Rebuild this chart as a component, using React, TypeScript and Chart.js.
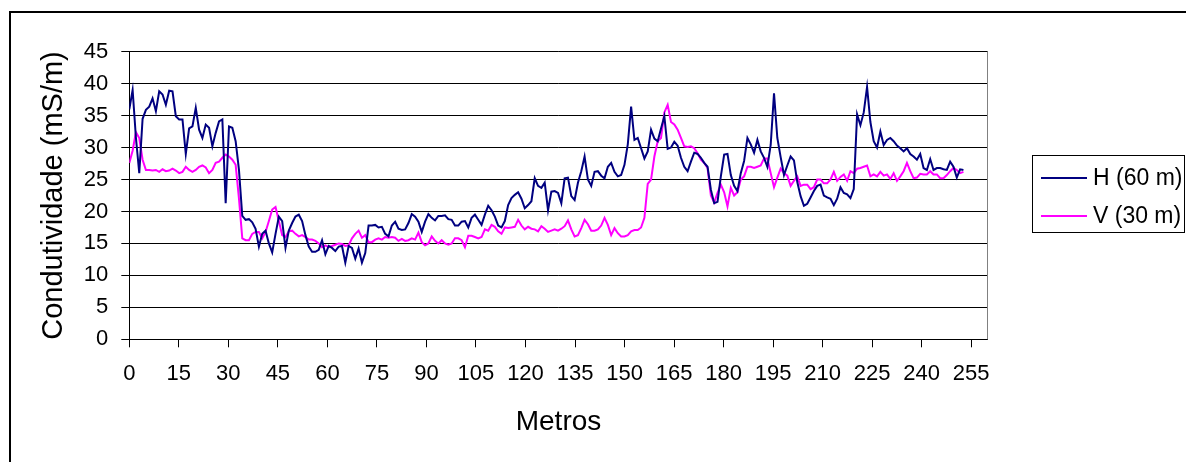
import React, { useEffect, useRef } from "react";
import { Chart, registerables } from "chart.js";

Chart.register(...registerables);

// Sample index along the profile (one reading per metre)
const H_60: number[] = [
  36.0, 39.0, 31.5, 26.0, 34.5, 35.9, 36.4, 37.7, 35.7, 38.8,
  38.3, 36.7, 38.9, 38.8, 34.9, 34.4, 34.4, 29.0, 33.0, 33.3,
  36.2, 32.8, 31.5, 33.6, 33.1, 30.2, 32.3, 34.1, 34.4, 21.3,
  33.3, 33.1, 31.0, 26.5, 19.3, 18.7, 18.8, 18.3, 17.3, 14.5,
  16.5, 17.0, 15.0, 13.6, 16.5, 19.2, 18.5, 14.3, 17.0, 18.2,
  19.2, 19.5, 18.5, 16.3, 14.5, 13.7, 13.7, 14.0, 15.5, 13.3,
  14.6, 14.3, 13.8, 14.5, 14.6, 12.0, 14.6, 14.3, 12.6, 14.2,
  12.0, 13.5, 17.8, 17.8, 17.9, 17.5, 17.6, 16.5, 16.1, 17.8,
  18.4, 17.3, 17.1, 17.2, 18.2, 19.6, 19.2, 18.4, 16.8, 18.4,
  19.6, 19.0, 18.6, 19.3, 19.3, 19.4, 18.8, 18.7, 17.8, 17.8,
  18.4, 18.5, 17.5, 19.0, 19.5, 18.7, 17.9, 19.5, 20.9, 20.2,
  19.2, 17.8, 17.5, 18.5, 21.0, 22.1, 22.6, 23.0, 22.0, 20.5,
  21.0, 21.6, 25.2, 24.0, 23.7, 24.5, 20.2, 23.1, 23.2, 22.9,
  21.3, 25.2, 25.3, 22.4, 21.8, 24.5, 26.3, 28.6, 25.0, 24.0,
  26.2, 26.3, 25.6, 25.2, 27.0, 27.6, 26.2, 25.5, 25.7, 27.3,
  30.5, 36.4, 31.2, 31.5, 29.9, 28.3, 29.4, 32.8, 31.4, 31.0,
  33.0, 34.9, 29.8, 30.0, 30.9, 30.3, 28.4, 27.0, 26.3, 27.8,
  29.2, 29.0, 28.4, 27.6, 27.0, 23.4, 21.3, 21.5, 25.5, 28.9,
  29.0, 25.7, 24.0, 23.2, 26.0, 27.9, 31.5, 30.5, 29.2, 31.2,
  29.4, 28.4, 27.0, 30.4, 38.5, 31.5, 28.5, 25.7, 27.2, 28.6,
  28.0, 24.6, 22.4, 20.9, 21.2, 22.2, 23.2, 24.0, 24.2, 22.5,
  22.2, 22.0, 21.0, 22.0, 23.8, 22.9, 22.7, 22.1, 23.5, 35.2,
  33.5, 35.5, 39.5, 34.0, 31.0, 30.0, 32.5, 30.4, 31.2, 31.5,
  31.0, 30.3, 29.9, 29.4, 29.9, 29.0, 28.6, 28.1, 29.0, 26.8,
  26.5, 28.2, 26.5, 26.8, 26.8, 26.6, 26.5, 27.8, 27.0, 25.3,
  26.6, 26.5,
];

const V_30: number[] = [
  27.6, 29.5, 32.4, 31.5, 28.1, 26.5, 26.5, 26.4, 26.5, 26.2,
  26.6, 26.3, 26.4, 26.7, 26.4, 26.0, 26.2, 27.0, 26.5, 26.2,
  26.5, 27.0, 27.2, 26.9, 26.0, 26.5, 27.6, 27.8, 28.4, 28.9,
  28.6, 28.1, 27.3, 22.0, 15.8, 15.5, 15.5, 16.5, 16.8, 16.8,
  15.8, 16.8, 18.5, 20.3, 20.7, 18.5, 16.3, 16.0, 16.9, 17.0,
  16.5, 16.1, 16.3, 16.0, 15.6, 15.6, 15.4, 15.0, 14.4, 14.7,
  14.4, 14.6, 14.8, 15.0, 14.9, 14.6, 14.7, 15.8, 16.5, 17.0,
  15.9, 16.3, 15.2, 15.2, 15.6, 15.8, 15.6, 16.0, 15.9, 16.0,
  15.9, 15.4, 15.7, 15.4, 15.5, 15.8, 15.6, 16.7, 15.2, 14.7,
  15.0, 16.1, 15.4, 15.0, 15.5, 15.0, 14.8, 15.0, 15.8, 15.8,
  15.5, 14.4, 16.2, 16.2, 16.0, 15.8, 16.0, 17.2, 17.0, 17.9,
  17.6, 16.9, 16.5, 17.5, 17.4, 17.5, 17.6, 18.7, 17.8, 17.2,
  17.6, 17.3, 17.2, 16.9, 17.7, 17.3, 16.8, 17.0, 17.2, 17.0,
  17.3, 17.7, 18.6, 17.2, 16.1, 16.3, 17.4, 18.7, 18.0, 17.0,
  17.0, 17.2, 17.8, 19.0, 17.9, 16.3, 17.4, 16.6, 16.1, 16.1,
  16.3, 16.9, 17.1, 17.1, 17.5, 19.0, 24.3, 25.0, 28.6, 31.0,
  31.5, 35.5, 36.7, 34.0, 33.6, 32.8, 31.5, 30.2, 30.1, 30.2,
  29.9, 29.1, 28.1, 27.6, 26.8, 22.5, 21.4, 22.9, 24.2, 23.0,
  20.8, 23.7, 22.5, 23.0, 25.0, 25.5, 27.0, 27.0, 26.8, 27.0,
  27.2, 28.3, 28.3, 26.0, 23.8, 25.3, 26.7, 26.0, 25.6, 24.0,
  24.8, 25.5, 24.0, 24.2, 24.2, 23.5, 23.8, 25.0, 25.0, 24.4,
  24.4, 25.0, 26.2, 24.8, 25.4, 25.8, 24.8, 26.3, 26.0, 26.7,
  26.8, 27.0, 27.2, 25.5, 25.8, 25.5, 26.2, 25.6, 25.8, 25.1,
  26.0, 24.8, 25.5, 26.3, 27.6, 26.3, 25.2, 25.3, 25.9, 25.8,
  25.8, 26.3, 25.8, 25.8, 25.2, 25.2, 25.7, 26.3, 26.8, 26.5,
  26.0, 26.2,
];

const SERIES_LABELS = ["H (60 m)", "V (30 m)"];
const SERIES_COLORS = ["#000080", "#FF00FF"];
const X_TITLE = "Metros";
const Y_TITLE = "Condutividade (mS/m)";
const Y_MIN = 0;
const Y_MAX = 45;
const Y_STEP = 5;
const X_TICK_MIN = 0;
const X_TICK_MAX = 260;
const X_TICK_STEP = 15;
const SAMPLE_AXIS_MAX = 258.3;

const FONT = '"Liberation Sans", Arial, Helvetica, sans-serif';

const legendPlugin = {
  id: "boxLegend",
  afterDraw(chart: any) {
    const ctx = chart.ctx as CanvasRenderingContext2D;
    ctx.save();
    ctx.strokeStyle = "#000";
    ctx.lineWidth = 1;
    ctx.strokeRect(1032.5, 155.5, 152, 77);
    const rows = [178, 216];
    chart.data.datasets.forEach((ds: any, i: number) => {
      const y = rows[i];
      ctx.strokeStyle = ds.borderColor;
      ctx.lineWidth = 2;
      ctx.beginPath();
      ctx.moveTo(1041, y);
      ctx.lineTo(1087, y);
      ctx.stroke();
      ctx.fillStyle = "#000";
      ctx.font = `23px ${FONT}`;
      ctx.textBaseline = "middle";
      ctx.textAlign = "left";
      ctx.fillText(ds.label, 1093, y + 1);
    });
    ctx.restore();
  },
  beforeDatasetsDraw(chart: any) {
    const { ctx, chartArea } = chart;
    ctx.save();
    ctx.strokeStyle = "#808080";
    ctx.lineWidth = 1;
    ctx.beginPath();
    ctx.moveTo(Math.round(chartArea.right) - 0.5, chartArea.top);
    ctx.lineTo(Math.round(chartArea.right) - 0.5, chartArea.bottom);
    ctx.stroke();
    ctx.restore();
  },
};

export default function App() {
  const canvasRef = useRef<HTMLCanvasElement | null>(null);

  useEffect(() => {
    if (!canvasRef.current) return;
    const chart = new Chart(canvasRef.current, {
      type: "line",
      data: {
        datasets: [
          {
            label: SERIES_LABELS[0],
            data: H_60.map((v, i) => ({ x: i, y: v })),
            borderColor: SERIES_COLORS[0],
            backgroundColor: SERIES_COLORS[0],
            borderWidth: 2,
            pointRadius: 0,
            tension: 0,
            xAxisID: "xd",
            yAxisID: "y",
          },
          {
            label: SERIES_LABELS[1],
            data: V_30.map((v, i) => ({ x: i, y: v })),
            borderColor: SERIES_COLORS[1],
            backgroundColor: SERIES_COLORS[1],
            borderWidth: 2,
            pointRadius: 0,
            tension: 0,
            xAxisID: "xd",
            yAxisID: "y",
          },
        ],
      },
      options: {
        responsive: false,
        animation: false,
        events: [],
        layout: { padding: { top: 51.7, right: 198.3, bottom: 0, left: 0 } },
        plugins: {
          legend: { display: false },
          tooltip: { enabled: false },
        },
        scales: {
          xd: {
            type: "linear",
            display: false,
            min: 0,
            max: SAMPLE_AXIS_MAX,
          },
          x: {
            type: "linear",
            position: "bottom",
            min: X_TICK_MIN,
            max: X_TICK_MAX,
            afterFit(scale: any) {
              scale.height = 122.7;
            },
            ticks: {
              stepSize: X_TICK_STEP,
              includeBounds: false,
              autoSkip: false,
              maxRotation: 0,
              minRotation: 0,
              padding: 13,
              color: "#000",
              font: { family: FONT, size: 22 },
            },
            grid: {
              drawOnChartArea: false,
              drawTicks: true,
              tickLength: 8,
              color: "#000",
            },
            border: { display: true, color: "#000", width: 1 },
            title: {
              display: true,
              text: X_TITLE,
              color: "#000",
              font: { family: FONT, size: 28 },
              padding: { top: 0, bottom: 23 },
            },
          },
          y: {
            type: "linear",
            position: "left",
            min: Y_MIN,
            max: Y_MAX,
            afterFit(scale: any) {
              scale.width = 129.3;
            },
            ticks: {
              stepSize: Y_STEP,
              padding: 13,
              color: "#000",
              font: { family: FONT, size: 22 },
            },
            grid: {
              color: "#000",
              tickLength: 8,
              drawTicks: true,
            },
            border: { display: true, color: "#000", width: 1 },
            title: {
              display: true,
              text: Y_TITLE,
              color: "#000",
              font: { family: FONT, size: 29 },
              padding: { top: 37, bottom: 0 },
            },
          },
        },
      },
      plugins: [legendPlugin],
    } as any);
    return () => chart.destroy();
  }, []);

  return (
    <div
      style={{
        position: "fixed",
        left: 0,
        top: 0,
        width: 1186,
        height: 462,
        overflow: "hidden",
        background: "#fff",
      }}
    >
      <div
        style={{
          position: "absolute",
          left: 9,
          top: 11,
          width: 1250,
          height: 520,
          border: "2px solid #000",
          boxSizing: "border-box",
        }}
      />
      <canvas
        ref={canvasRef}
        width={1186}
        height={462}
        style={{ position: "absolute", left: 0, top: 0, width: 1186, height: 462 }}
      />
    </div>
  );
}
